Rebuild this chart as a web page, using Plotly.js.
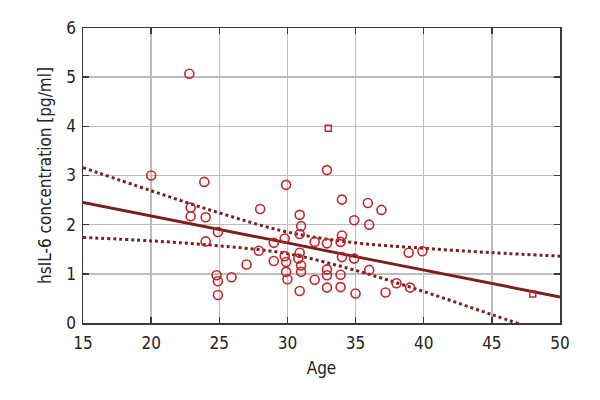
<!DOCTYPE html>
<html>
<head>
<meta charset="utf-8">
<script src="https://cdn.plot.ly/plotly-3.0.1.min.js"></script>
<style>
  html, body { margin: 0; padding: 0; background: #fff; }
  #chart { width: 600px; height: 400px; }
</style>
</head>
<body>
<div id="chart"></div>
<script>
// scatter points (age, hsIL-6 pg/ml)
const ageCircles = [
  22.8, 20.0, 23.9, 22.9, 22.9, 24.0, 24.0, 24.9, 24.8, 24.9, 24.9, 25.9, 27.0,
  27.9, 28.0, 29.0, 29.0, 29.9, 29.8, 29.8, 29.9, 29.9, 30.0,
  30.9, 31.0, 30.9, 30.9, 30.8, 31.0, 31.0, 30.9,
  32.0, 32.0, 32.9, 32.9, 32.9, 32.9, 32.9,
  34.0, 34.0, 33.9, 34.0, 33.9, 33.9,
  34.9, 34.9, 35.0, 35.9, 36.0, 36.0, 36.9, 37.2, 38.0, 38.9, 39.0, 39.9,
];
const il6Circles = [
  5.07, 3.0, 2.87, 2.35, 2.17, 2.15, 1.66, 1.85, 0.97, 0.85, 0.57, 0.93, 1.19,
  1.47, 2.32, 1.63, 1.26, 2.81, 1.72, 1.36, 1.24, 1.04, 0.89,
  2.20, 1.97, 1.81, 1.43, 1.31, 1.17, 1.04, 0.65,
  1.65, 0.88, 3.11, 1.62, 1.09, 0.97, 0.72,
  2.51, 1.78, 1.65, 1.34, 0.98, 0.73,
  2.09, 1.31, 0.60, 2.44, 2.00, 1.08, 2.30, 0.62, 0.81, 1.43, 0.72, 1.46,
];
const ageSquares = [33.0, 48.0];
const il6Squares = [3.96, 0.59];

// regression line and its confidence band, read at 5-year steps
const fitAges = [15, 20, 25, 30, 35, 40, 45, 50];
const fitLine = [2.45, 2.18, 1.90, 1.63, 1.35, 1.08, 0.80, 0.53];
const fitUpper = [3.16, 2.69, 2.24, 1.85, 1.63, 1.52, 1.43, 1.36];
const fitLower = [1.74, 1.67, 1.57, 1.41, 1.07, 0.64, 0.17, -0.30];

const ageTicks = [15, 20, 25, 30, 35, 40, 45, 50];
const il6Ticks = [0, 1, 2, 3, 4, 5, 6];

const MARKER_RED = '#c0272d';
const LINE_RED = '#7a1f1f';
const FONT = 'Liberation Sans Narrow, DejaVu Sans Condensed, Arial Narrow, sans-serif';

const traces = [
  {
    x: fitAges, y: fitUpper, type: 'scatter', mode: 'lines',
    line: { color: LINE_RED, width: 3, dash: 'dot', shape: 'spline', smoothing: 1 },
    hoverinfo: 'skip',
  },
  {
    x: fitAges, y: fitLower, type: 'scatter', mode: 'lines',
    line: { color: LINE_RED, width: 3, dash: 'dot', shape: 'spline', smoothing: 1 },
    hoverinfo: 'skip',
  },
  {
    x: fitAges, y: fitLine, type: 'scatter', mode: 'lines',
    line: { color: LINE_RED, width: 3 },
    hoverinfo: 'skip',
  },
  {
    x: ageCircles, y: il6Circles, type: 'scatter', mode: 'markers',
    marker: { symbol: 'circle-open', size: 9, color: MARKER_RED, line: { width: 1.6 } },
    cliponaxis: false,
  },
  {
    x: ageSquares, y: il6Squares, type: 'scatter', mode: 'markers',
    marker: { symbol: 'square-open', size: 6, color: MARKER_RED, line: { width: 1.5 } },
  },
];

const axisStyle = {
  showline: true,
  linecolor: '#3a3a3a',
  linewidth: 1.5,
  mirror: 'ticks',
  ticks: 'inside',
  ticklen: 6,
  tickwidth: 1.5,
  tickcolor: '#3a3a3a',
  showgrid: true,
  gridcolor: '#bdbdbd',
  gridwidth: 1.5,
  zeroline: false,
  tickfont: { family: FONT, size: 17, color: '#222' },
};

const layout = {
  width: 600,
  height: 400,
  showlegend: false,
  margin: { l: 83, r: 40, t: 28, b: 77 },
  font: { family: FONT, color: '#222' },
  xaxis: {
    ...axisStyle,
    range: [15, 50],
    tickmode: 'array',
    tickvals: ageTicks,
    ticklabelstandoff: 4,
    title: { text: 'Age', font: { family: FONT, size: 17 }, standoff: 10 },
  },
  yaxis: {
    ...axisStyle,
    range: [0, 6],
    tickmode: 'array',
    tickvals: il6Ticks,
    ticklabelstandoff: 2,
    title: { text: 'hsIL-6 concentration [pg/ml]', font: { family: FONT, size: 17 }, standoff: 10 },
  },
  plot_bgcolor: '#fff',
  paper_bgcolor: '#fff',
};

Plotly.newPlot('chart', traces, layout, { displayModeBar: false, staticPlot: true });
</script>
</body>
</html>
